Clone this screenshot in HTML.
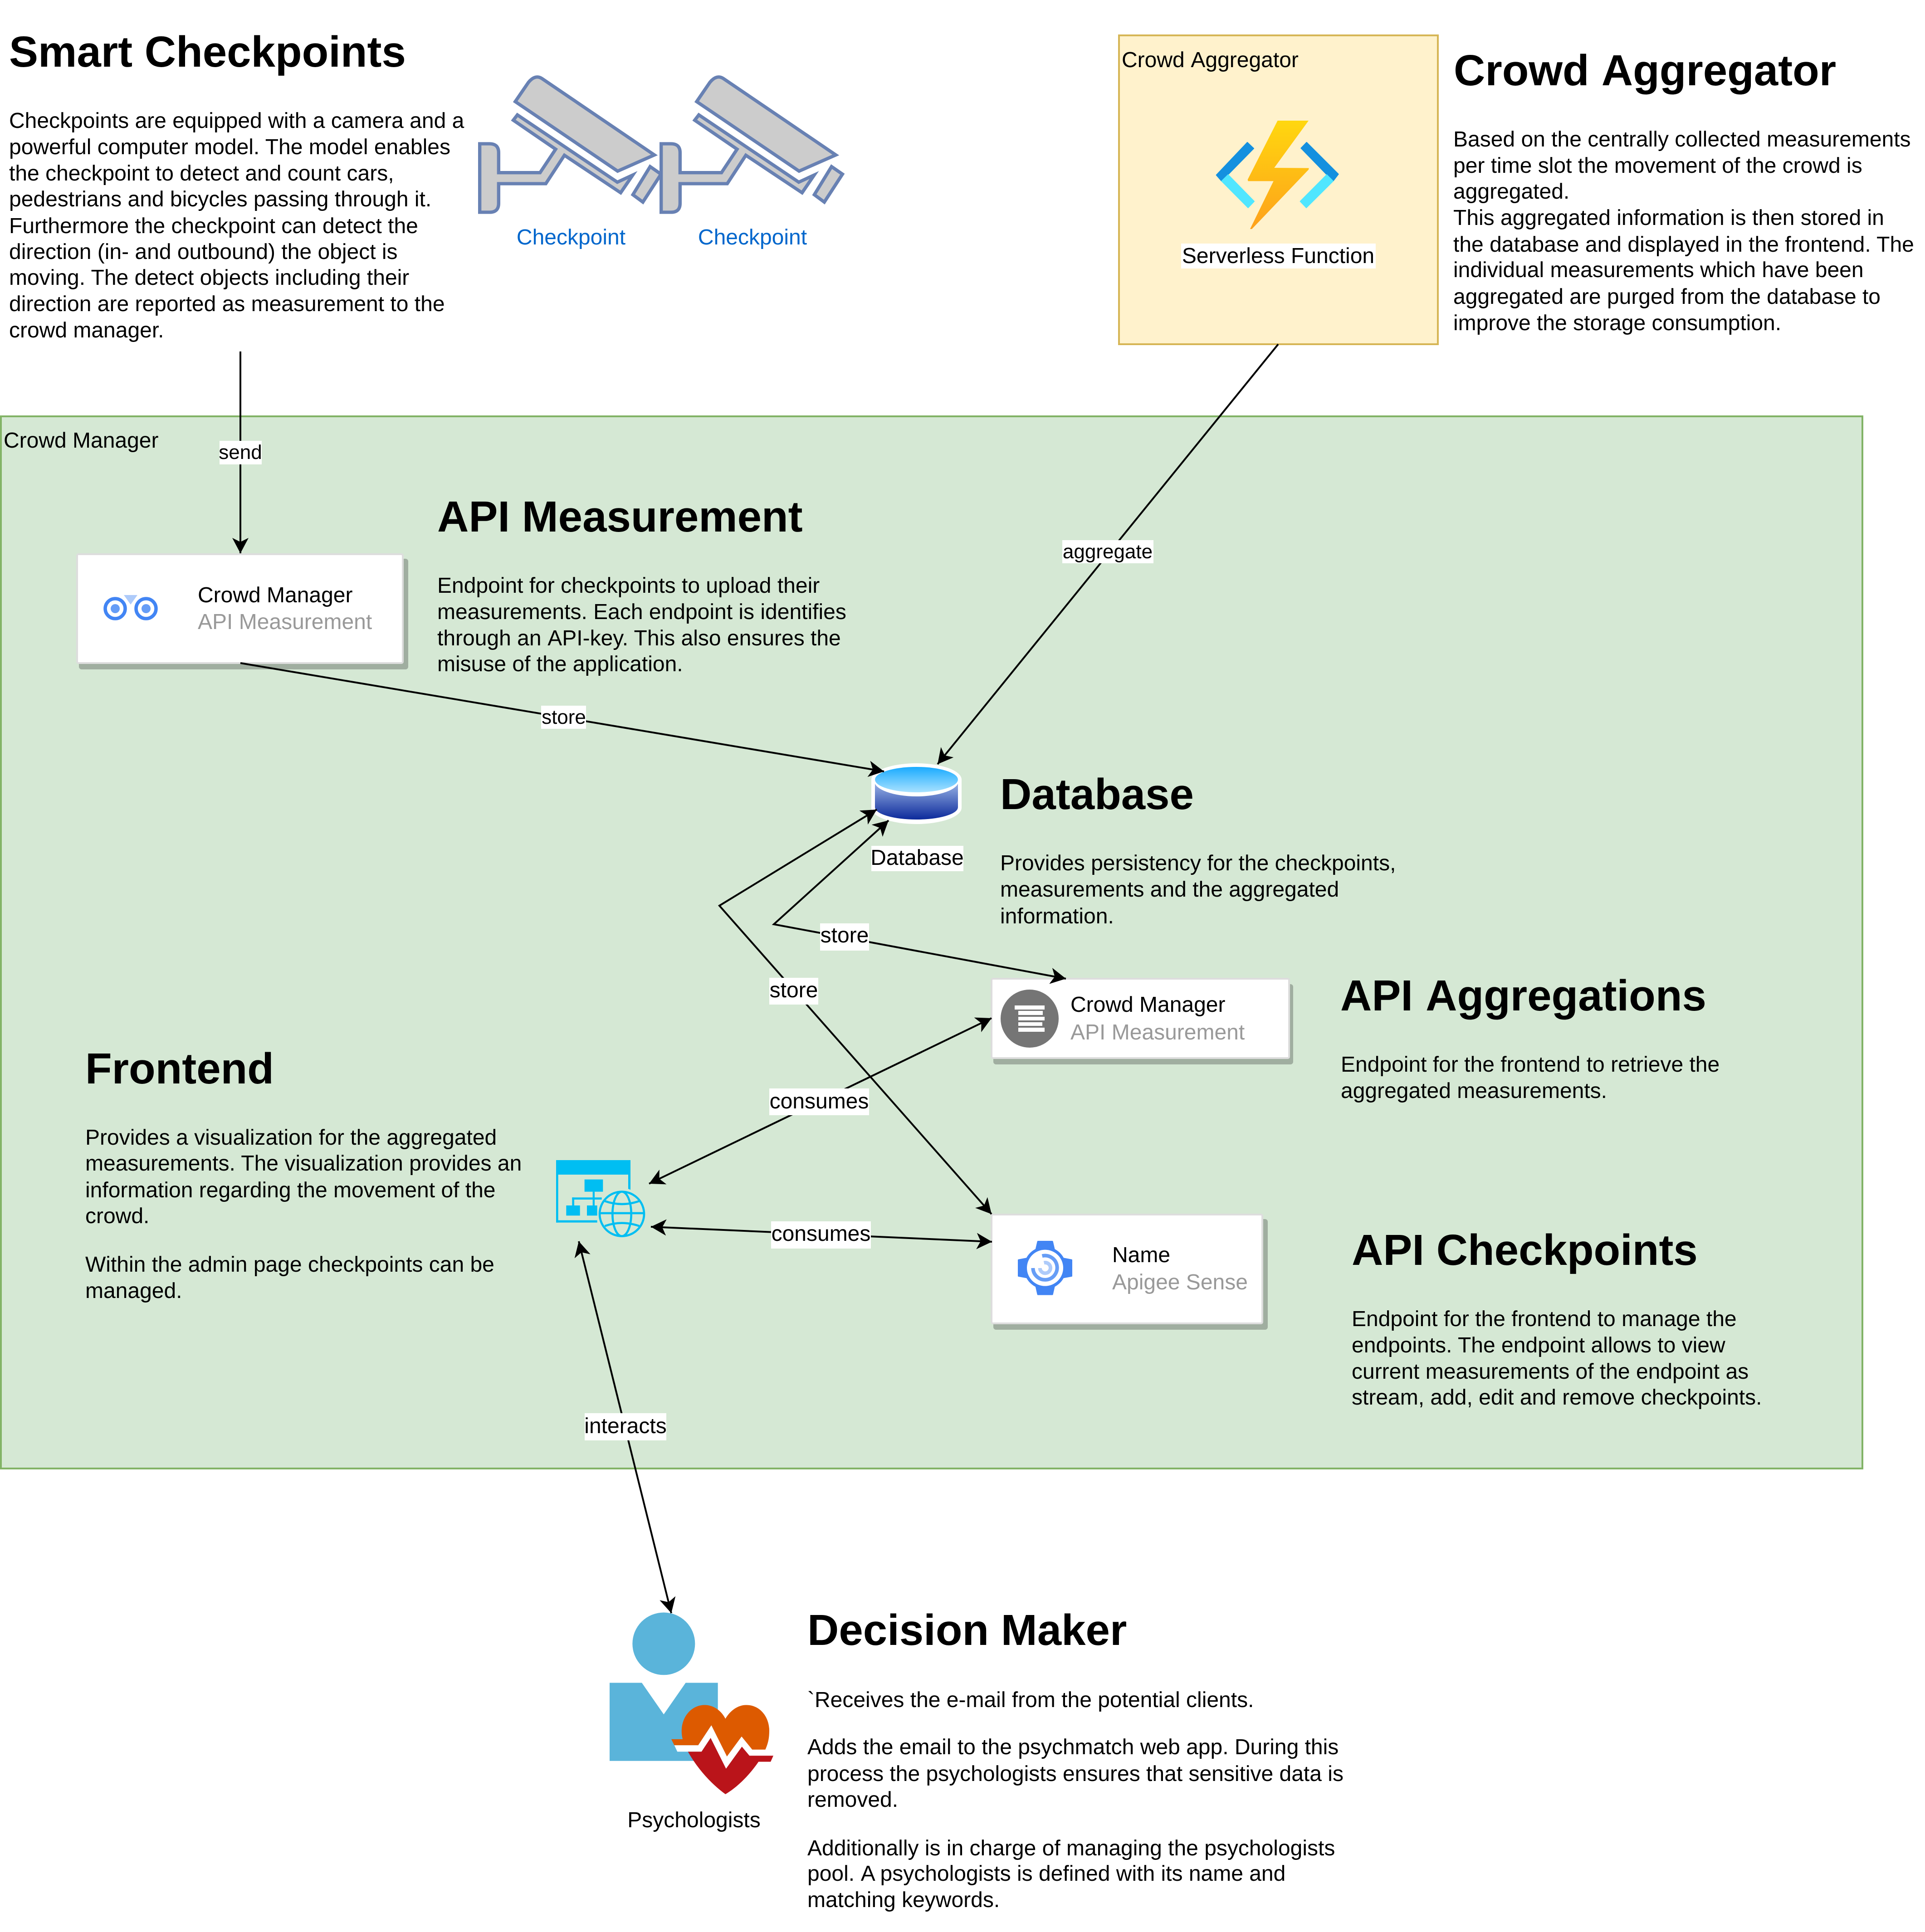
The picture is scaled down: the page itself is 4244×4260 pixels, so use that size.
<!DOCTYPE html>
<html><head><meta charset="utf-8"><style>
html,body{margin:0;padding:0;background:#fff}
svg{display:block}
text{font-family:"Liberation Sans",sans-serif;font-size:48px;fill:#000;text-rendering:geometricPrecision}
.h{font-size:96px;font-weight:bold}
.s{font-size:44px}
.g{fill:#999}
.m{text-anchor:middle}
.c{fill:none;stroke:#000;stroke-width:4}
</style></head><body>
<svg xmlns="http://www.w3.org/2000/svg" width="4244" height="4260" viewBox="0 0 4244 4260">
<defs>
<marker id="a" markerUnits="userSpaceOnUse" markerWidth="40" markerHeight="40" refX="34" refY="18" orient="auto-start-reverse"><path d="M0,0L34,18L0,36L9,18Z" fill="#000"/></marker>
<linearGradient id="bolt" x1="0" y1="0" x2="0" y2="1"><stop offset="0" stop-color="#FFD70F"/><stop offset="1" stop-color="#FEA11B"/></linearGradient>
<linearGradient id="dbt" x1="0" y1="0" x2="0" y2="1"><stop offset="0" stop-color="#1AABFF"/><stop offset="1" stop-color="#A8E1FF"/></linearGradient>
<linearGradient id="dbb" x1="0" y1="0" x2="0" y2="1"><stop offset="0" stop-color="#9AB4E6"/><stop offset="1" stop-color="#0C2A9B"/></linearGradient>
<g id="cam" stroke="#6881B3" stroke-width="22" fill="#CCCCCC" stroke-linejoin="miter" stroke-miterlimit="12">
<path d="M985,855L1065,738L963,785L302,340L275,375L555,567L452,722L178,722L178,590Q178,531 118,531L53,531L53,984L118,984Q178,984 178,925L178,795L490,795L613,607Z"/>
<path d="M288,252L375,125Q420,70 465,100L1208,605L965,712Z"/>
<path d="M1180,682L1252,732L1132,917L1066,868Z"/>
</g>
</defs>

<rect x="2" y="918" width="4104" height="2320" fill="#D5E8D4" stroke="#82B366" stroke-width="4"/>
<text x="8" y="987">Crowd Manager</text>

<!-- Smart Checkpoints -->
<text class="h" x="20" y="147">Smart Checkpoints</text>
<text x="20" y="282">Checkpoints are equipped with a camera and a</text>
<text x="20" y="340">powerful computer model. The model enables</text>
<text x="20" y="398">the checkpoint to detect and count cars,</text>
<text x="20" y="455">pedestrians and bicycles passing through it.</text>
<text x="20" y="514">Furthermore the checkpoint can detect the</text>
<text x="20" y="571">direction (in- and outbound) the object is</text>
<text x="20" y="628">moving. The detect objects including their</text>
<text x="20" y="686">direction are reported as measurement to the</text>
<text x="20" y="744">crowd manager.</text>

<use href="#cam" transform="translate(1040,140) scale(.33333)"/>
<use href="#cam" transform="translate(1440,140) scale(.33333)"/>
<text class="m" x="1259" y="539" style="fill:#0066CC">Checkpoint</text>
<text class="m" x="1659" y="539" style="fill:#0066CC">Checkpoint</text>

<!-- Aggregator -->
<rect x="2467" y="78" width="703" height="681" fill="#FFF2CC" stroke="#D6B656" stroke-width="4"/>
<text x="2473" y="148">Crowd <tspan dx="3">Aggregator</tspan></text>
<g transform="translate(2640,240) scale(.33333)" stroke-linejoin="round">
<path d="M330,222L372,262L160,478L125,438Z" fill="#1490DF" stroke="#1490DF" stroke-width="6"/>
<path d="M160,478L203,436L375,612L335,654Z" fill="#50E6FF" stroke="#50E6FF" stroke-width="6"/>
<path d="M722,222L932,432L897,478L685,260Z" fill="#1490DF" stroke="#1490DF" stroke-width="6"/>
<path d="M855,436L897,478L720,654L680,612Z" fill="#50E6FF" stroke="#50E6FF" stroke-width="6"/>
<path d="M530,78L735,78L508,390L737,392L735,402L360,795L348,795L503,478L335,478L332,468Z" fill="url(#bolt)"/>
</g>
<rect x="2604" y="537" width="429" height="55" fill="#fff"/>
<text class="m" x="2818" y="580">Serverless Function</text>
<text class="h" x="3205" y="188">Crowd <tspan dx="4">Aggregator</tspan></text>
<text x="3204" y="323">Based on the centrally collected measurements</text>
<text x="3204" y="381">per time slot the movement of the crowd is</text>
<text x="3204" y="438">aggregated.</text>
<text x="3204" y="496">This aggregated information is then stored in</text>
<text x="3204" y="555">the database and displayed in the frontend. The</text>
<text x="3204" y="611">individual measurements which have been</text>
<text x="3204" y="670">aggregated are purged from the database to</text>
<text x="3204" y="728">improve the storage consumption.</text>

<!-- Section text -->
<text class="h" x="964" y="1172">API Measurement</text>
<text x="964" y="1307">Endpoint for checkpoints to upload their</text>
<text x="964" y="1365">measurements. Each endpoint is identifies</text>
<text x="964" y="1423">through an <tspan dx="3">API-key.</tspan> This also ensures the</text>
<text x="964" y="1480">misuse of the application.</text>

<text class="h" x="2205" y="1784">Database</text>
<text x="2205" y="1919">Provides persistency for the checkpoints,</text>
<text x="2205" y="1977">measurements and the aggregated</text>
<text x="2205" y="2036">information.</text>

<text class="h" x="2955" y="2228">API <tspan dx="5">Aggregations</tspan></text>
<text x="2956" y="2363">Endpoint for the frontend to retrieve the</text>
<text x="2956" y="2421">aggregated measurements.</text>

<text class="h" x="188" y="2389">Frontend</text>
<text x="188" y="2524">Provides a visualization for the aggregated</text>
<text x="188" y="2581">measurements. The visualization provides an</text>
<text x="188" y="2640">information regarding the movement of the</text>
<text x="188" y="2697">crowd.</text>
<text x="188" y="2804">Within the admin page checkpoints can be</text>
<text x="188" y="2862">managed.</text>

<text class="h" x="2980" y="2789">API Checkpoints</text>
<text x="2980" y="2924">Endpoint for the frontend to manage the</text>
<text x="2980" y="2982">endpoints. The endpoint allows to view</text>
<text x="2980" y="3040">current measurements of the endpoint as</text>
<text x="2980" y="3097">stream, add, edit and remove checkpoints.</text>

<text class="h" x="1780" y="3627">Decision Maker</text>
<text x="1780" y="3764">`Receives the e-mail from the potential clients.</text>
<text x="1780" y="3868">Adds the email to the psychmatch web app. During this</text>
<text x="1780" y="3927">process the psychologists ensures that sensitive data is</text>
<text x="1780" y="3984">removed.</text>
<text x="1780" y="4091">Additionally is in charge of managing the psychologists</text>
<text x="1780" y="4147">pool. <tspan dx="3">A</tspan> psychologists is defined with its name and</text>
<text x="1780" y="4205">matching keywords.</text>

<!-- Cards -->
<rect x="174" y="1232" width="726" height="244" rx="6" fill="#A0AEA0"/>
<rect x="170" y="1222" width="718" height="240" rx="3" fill="#fff" stroke="#ddd" stroke-width="4"/>
<circle cx="254" cy="1342" r="22" fill="#fff" stroke="#4285F4" stroke-width="7.5"/>
<circle cx="322" cy="1342" r="22" fill="#fff" stroke="#4285F4" stroke-width="7.5"/>
<circle cx="254" cy="1342" r="10" fill="#669DF6"/>
<circle cx="322" cy="1342" r="10" fill="#669DF6"/>
<path d="M273,1312L303,1312L288,1333Z" fill="#AECBFA"/>
<text x="436" y="1328">Crowd Manager</text>
<text class="g" x="436" y="1387">API Measurement</text>

<rect x="2190" y="2170" width="661" height="177" rx="6" fill="#A0AEA0"/>
<rect x="2186" y="2158" width="656" height="175" rx="3" fill="#fff" stroke="#ddd" stroke-width="4"/>
<circle cx="2270" cy="2246" r="64" fill="#757575"/>
<g fill="#fff"><rect x="2237" y="2217" width="66" height="9"/><rect x="2245" y="2229" width="54" height="9"/><rect x="2245" y="2242" width="58" height="8"/><rect x="2245" y="2254" width="53" height="8"/><rect x="2245" y="2266" width="58" height="9"/></g>
<text x="2360" y="2231">Crowd Manager</text>
<text class="g" x="2360" y="2292">API Measurement</text>

<rect x="2190" y="2688" width="605" height="244" rx="6" fill="#A0AEA0"/>
<rect x="2186" y="2678" width="597" height="240" rx="3" fill="#fff" stroke="#ddd" stroke-width="4"/>
<g transform="translate(2200,2700) scale(.33333)">
<circle cx="312" cy="287" r="140" fill="#4285F4"/>
<g fill="#4285F4" stroke="#4285F4" stroke-width="10" stroke-linejoin="round"><path d="M265,113H360L372,165H253Z"/><path d="M253,409H372L360,462H265Z"/><path d="M137,235L190,225V350L137,340Z"/><path d="M487,235L434,225V350L487,340Z"/></g>
<circle cx="312" cy="287" r="120" fill="#fff"/>
<path d="M232,288A80,80 0 1 0 293,208" fill="none" stroke="#669DF6" stroke-width="24"/>
<path d="M278,288A35,35 0 1 0 305,253" fill="none" stroke="#AECBFA" stroke-width="24"/>
</g>
<text x="2452" y="2783">Name</text>
<text class="g" x="2452" y="2843">Apigee Sense</text>

<!-- Database icon -->
<path d="M1921,1719A99.5,36 0 0 1 2120,1719V1781A99.5,36 0 0 1 1921,1781Z" fill="#fff"/>
<path d="M1929,1725V1780A91.5,27 0 0 0 2112,1780V1725Z" fill="url(#dbb)"/>
<ellipse cx="2020.5" cy="1722" rx="93" ry="34" fill="#fff"/>
<ellipse cx="2020.5" cy="1719" rx="91.5" ry="28" fill="url(#dbt)"/>
<rect x="1921" y="1865" width="203" height="56" fill="#fff"/>
<text class="m" x="2022" y="1907">Database</text>

<!-- Web app icon -->
<g transform="translate(1200,2540) scale(.33333)" fill="#00BEF2">
<rect x="78" y="54" width="492" height="96"/><rect x="78" y="150" width="14" height="317"/><rect x="78" y="452" width="272" height="15"/><path d="M555,150H570V250L555,244Z"/>
<rect x="266" y="182" width="122" height="81"/><rect x="145" y="354" width="91" height="67"/><rect x="282" y="354" width="68" height="67"/>
<rect x="320" y="263" width="13" height="91"/><rect x="184" y="301" width="196" height="14"/><rect x="184" y="301" width="14" height="53"/>
<g fill="none" stroke="#00BEF2" stroke-width="14"><circle cx="513" cy="410" r="147"/><ellipse cx="513" cy="410" rx="62" ry="147"/><path d="M365,405H660M400,325Q513,365 628,325M400,490Q513,450 628,490"/></g>
</g>

<!-- Psychologist icon -->
<g transform="translate(1250,3500) scale(.33333,.3827)">
<ellipse cx="640" cy="325" rx="207" ry="180" fill="#5AB4DA"/>
<path d="M282,550H495L640,732L785,550H998V1000H282Z" fill="#5AB4DA"/>
<path d="M690,875H765C735,770 810,678 910,678C970,678 1020,710 1048,757C1080,710 1130,678 1185,678C1280,678 1338,750 1338,825C1338,870 1330,900 1312,935H1225L1155,860L1058,975L955,795L868,910H710Z" fill="#DD5A00"/>
<path d="M710,910H868L955,795L1058,975L1155,860L1225,935H1312L1365,970H1207L1157,918L1052,1045L950,868L890,947H730Z" fill="#fff"/>
<path d="M800,947H890L950,868L1052,1045L1157,918L1207,970H1365L1347,1005H1267C1200,1090 1120,1155 1048,1192C950,1130 860,1040 800,947Z" fill="#BA141A"/>
</g>
<text class="m" x="1530" y="4029">Psychologists</text>

<!-- Connectors -->
<path class="c" d="M530,775V1220" marker-end="url(#a)"/>
<path class="c" d="M530,1462L1949,1701" marker-end="url(#a)"/>
<path class="c" d="M2818,759L2067,1685" marker-end="url(#a)"/>
<path class="c" d="M1959,1809L1706,2038L2350,2158" marker-start="url(#a)" marker-end="url(#a)"/>
<path class="c" d="M1933,1785L1586,1997L2186,2677" marker-start="url(#a)" marker-end="url(#a)"/>
<path class="c" d="M2186,2245L1431,2610" marker-start="url(#a)" marker-end="url(#a)"/>
<path class="c" d="M1435,2705L2187,2738" marker-start="url(#a)" marker-end="url(#a)"/>
<path class="c" d="M1276,2737L1480,3557" marker-start="url(#a)" marker-end="url(#a)"/>

<!-- Connector labels -->
<rect x="484" y="972" width="93" height="52" fill="#fff"/><text class="s m" x="530" y="1012">send</text>
<rect x="1193" y="1556" width="99" height="51" fill="#fff"/><text class="s m" x="1243" y="1596">store</text>
<rect x="2342" y="1191" width="201" height="51" fill="#fff"/><text class="s m" x="2442" y="1231">aggregate</text>
<rect x="1808" y="2036" width="108" height="60" fill="#fff"/><text class="m" x="1862" y="2078">store</text>
<rect x="1696" y="2156" width="108" height="59" fill="#fff"/><text class="m" x="1750" y="2199">store</text>
<rect x="1696" y="2400" width="220" height="59" fill="#fff"/><text class="m" x="1806" y="2444">consumes</text>
<rect x="1700" y="2693" width="220" height="60" fill="#fff"/><text class="m" x="1810" y="2736">consumes</text>
<rect x="1289" y="3116" width="180" height="60" fill="#fff"/><text class="m" x="1379" y="3160">interacts</text>
</svg>
</body></html>
